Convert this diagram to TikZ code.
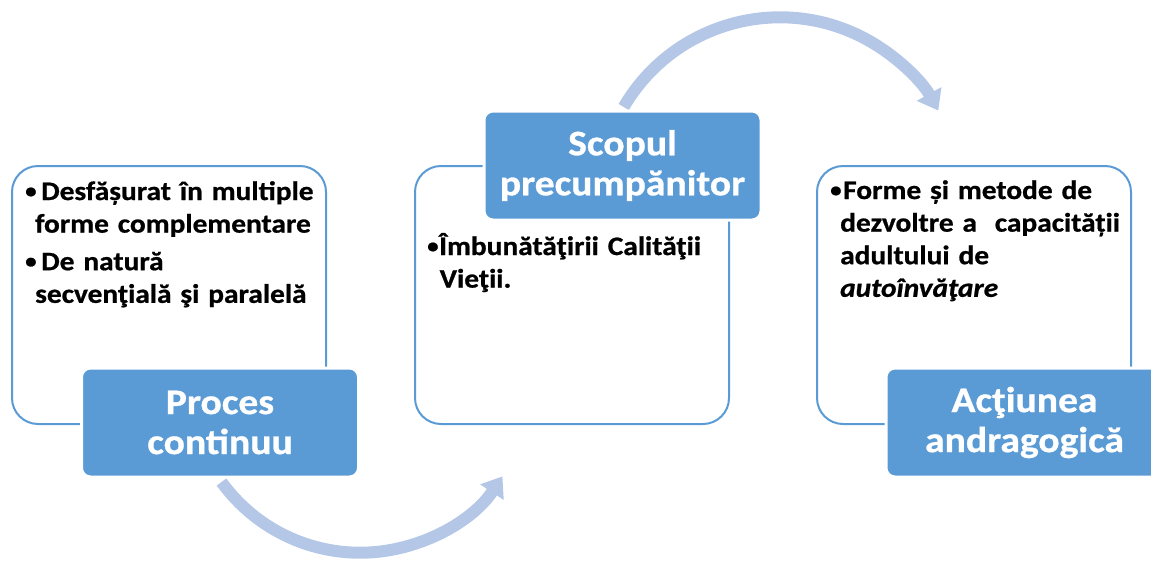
\documentclass[tikz,border=0pt]{standalone}
\usepackage{graphicx}
\usepackage{fontspec}
\setmainfont{Carlito}[FakeStretch=1.1,
  BoldFeatures={FakeBold=0.8}, BoldItalicFeatures={FakeBold=0.8}]
\usetikzlibrary{arrows.meta}
\definecolor{accent}{HTML}{5B9BD5}
\definecolor{arcblue}{HTML}{B4C7E7}
\tikzset{
  outerbox/.style={draw=accent, line width=2pt, rounded corners=26pt, fill=white,
    minimum width=314pt, minimum height=258pt, anchor=north west, inner sep=0pt},
  titlebox/.style={fill=accent, draw=white, line width=3pt, rounded corners=9pt,
    minimum width=277pt, minimum height=109pt, inner sep=0pt, text=white,
    text width=270pt, align=center, font=\bfseries\fontsize{36}{40}\selectfont},
  bodytext/.style={anchor=base west, inner sep=0pt, text width=320pt, align=left,
    font=\bfseries\fontsize{26.7}{32.6}\selectfont},
  flow/.style={draw=arcblue, line width=12pt, -{Triangle[length=19pt,width=27pt]}},
}
\newcommand{\bulmark}[1]{\makebox[#1][l]{\raisebox{2.2pt}{\scalebox{0.78}{•}}}}
\newcommand{\bulgap}[1]{\hspace*{#1}}
\begin{document}
\begin{tikzpicture}[x=1pt,y=-1pt]
  \useasboundingbox (0,0) rectangle (1151,560);
  \clip (0,0) rectangle (1151,560);
  % outer text boxes
  \node[outerbox] (b1) at (11,165) {};
  \node[outerbox] (b2) at (414,165) {};
  \node[outerbox] (b3) at (816,165) {};
  % curved arrows
  \coordinate (a1s) at (221.5,482);
  \coordinate (a2s) at (623.7,107);
  \draw[flow] (a1s) arc[start angle=144.1, end angle=33.6, radius=171];
  \draw[flow] (a2s) arc[start angle=210.3, end angle=331, radius=181];
  % title boxes
  \node[titlebox] (t1) at (220,422.5) {Proces\\continuu};
  \node[titlebox] (t2) at (622.5,165.5) {Scopul\\precumpănitor};
  \node[titlebox] (t3) at (1024.5,422.5) {Acţiunea\\andragogică};
  % body texts
  \node[bodytext] (x1) at (25,200) {\bulmark{16pt}Desfășurat în multiple\\\bulgap{10pt}forme complementare\par\vspace{5pt}\bulmark{16pt}De natură\\\bulgap{10pt}secvenţială şi paralelă};
  \node[bodytext] (x2) at (427,255) {\bulmark{12pt}Îmbunătăţirii Calităţii\\\bulgap{12.5pt}Vieţii.};
  \node[bodytext] (x3) at (830,199) {\bulmark{13pt}Forme și metode de\\\bulgap{10pt}dezvoltre a\ \ capacității\\\bulgap{10pt}adultului de\\\bulgap{10pt}\textit{autoînvăţare}};
\end{tikzpicture}
\end{document}
